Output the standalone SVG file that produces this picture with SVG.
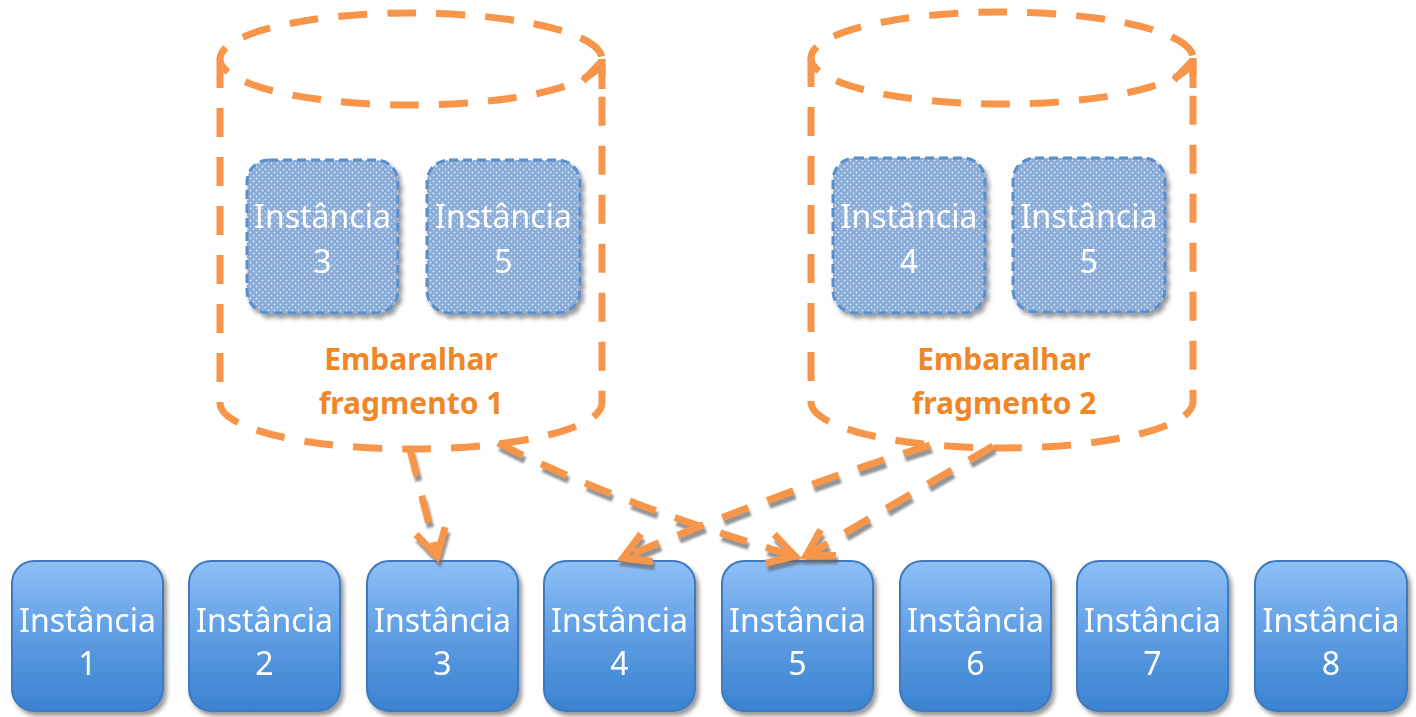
<svg xmlns="http://www.w3.org/2000/svg" width="1416" height="717" viewBox="0 0 1416 717">
<defs>
<style>
.cyl{fill:none;stroke:#F7964A;stroke-width:7;stroke-dasharray:29 20}
.cylsolid{fill:none;stroke:#F7964A;stroke-width:7}
.conn{fill:none;stroke:#F7964A;stroke-width:7;stroke-dasharray:28 20;marker-end:url(#arr)}
.lbl{font-family:"Noto Sans","Open Sans",sans-serif;font-weight:bold;font-size:30px;fill:#EF8628;text-anchor:middle}
.itxt{font-family:"Noto Sans","Open Sans",sans-serif;font-size:32px;fill:#ffffff;text-anchor:middle}
.box{fill:url(#bg);stroke:#3F79BD;stroke-width:2}
.ibox{fill:url(#dots);stroke:#5A8ECD;stroke-width:3;stroke-dasharray:9 5}
</style>
<linearGradient id="bg" x1="0" y1="0" x2="0" y2="1">
<stop offset="0" stop-color="#8EC0F6"/>
<stop offset="0.5" stop-color="#5E9DE3"/>
<stop offset="1" stop-color="#3A82D0"/>
</linearGradient>
<pattern id="dots" width="6" height="6" patternUnits="userSpaceOnUse">
<rect width="6" height="6" fill="#88ABD7"/>
<circle cx="1.5" cy="1.5" r="0.9" fill="#DDE8F5"/>
<circle cx="4.5" cy="4.5" r="0.9" fill="#DDE8F5"/>
</pattern>
<filter id="sh" x="-10%" y="-10%" width="125%" height="125%">
<feDropShadow dx="3" dy="4" stdDeviation="2" flood-color="#000" flood-opacity="0.4"/>
</filter>
<filter id="csh" x="-10%" y="-10%" width="130%" height="140%">
<feDropShadow dx="2" dy="5" stdDeviation="1.2" flood-color="#666" flood-opacity="0.7"/>
</filter>
<marker id="arr" markerUnits="userSpaceOnUse" markerWidth="60" markerHeight="60" viewBox="-40 -30 50 60" refX="0" refY="0" orient="auto">
<path d="M-26,-15 L0,0 L-26,15" fill="none" stroke="#F7964A" stroke-width="7"/>
</marker>
</defs>
<rect width="1416" height="717" fill="#ffffff"/>

<g id="shard1">
<ellipse class="cyl" cx="411" cy="59" rx="191" ry="46"/>
<path class="cyl" d="M220,59 V403 A191,46 0 0 0 602,403 V59"/>
<path class="cylsolid" d="M583,81 L601,62 M602,62 V89"/>
<text class="lbl" x="411" y="370">Embaralhar</text>
<text class="lbl" x="411" y="414">fragmento 1</text>
</g>

<g id="shard2">
<ellipse class="cyl" cx="1002" cy="58" rx="191" ry="46"/>
<path class="cyl" d="M811,58 V402 A191,46 0 0 0 1193,402 V58"/>
<path class="cylsolid" d="M1174,80 L1192,61 M1193,61 V88"/>
<text class="lbl" x="1004" y="370">Embaralhar</text>
<text class="lbl" x="1004" y="414">fragmento 2</text>
</g>

<g id="s1-inst3" filter="url(#sh)">
<rect class="ibox" x="247" y="160" width="151" height="153" rx="22"/>
<text class="itxt" x="322.5" y="228">Instância</text>
<text class="itxt" x="322.5" y="273">3</text>
</g>
<g id="s1-inst5" filter="url(#sh)">
<rect class="ibox" x="427" y="160" width="153" height="153" rx="22"/>
<text class="itxt" x="503.5" y="228">Instância</text>
<text class="itxt" x="503.5" y="273">5</text>
</g>
<g id="s2-inst4" filter="url(#sh)">
<rect class="ibox" x="833" y="158" width="152" height="155" rx="22"/>
<text class="itxt" x="909" y="228">Instância</text>
<text class="itxt" x="909" y="273">4</text>
</g>
<g id="s2-inst5" filter="url(#sh)">
<rect class="ibox" x="1013" y="158" width="152" height="154" rx="22"/>
<text class="itxt" x="1089" y="228">Instância</text>
<text class="itxt" x="1089" y="273">5</text>
</g>

<g id="inst1" filter="url(#sh)"><rect class="box" x="12" y="561" width="151" height="150" rx="22"/><text class="itxt" x="87.5" y="632">Instância</text><text class="itxt" x="87.5" y="675">1</text></g>
<g id="inst2" filter="url(#sh)"><rect class="box" x="189" y="561" width="151" height="150" rx="22"/><text class="itxt" x="264.5" y="632">Instância</text><text class="itxt" x="264.5" y="675">2</text></g>
<g id="inst3" filter="url(#sh)"><rect class="box" x="367" y="561" width="151" height="150" rx="22"/><text class="itxt" x="442.5" y="632">Instância</text><text class="itxt" x="442.5" y="675">3</text></g>
<g id="inst4" filter="url(#sh)"><rect class="box" x="544" y="561" width="151" height="150" rx="22"/><text class="itxt" x="619.5" y="632">Instância</text><text class="itxt" x="619.5" y="675">4</text></g>
<g id="inst5" filter="url(#sh)"><rect class="box" x="722" y="561" width="151" height="150" rx="22"/><text class="itxt" x="797.5" y="632">Instância</text><text class="itxt" x="797.5" y="675">5</text></g>
<g id="inst6" filter="url(#sh)"><rect class="box" x="900" y="561" width="151" height="150" rx="22"/><text class="itxt" x="975.5" y="632">Instância</text><text class="itxt" x="975.5" y="675">6</text></g>
<g id="inst7" filter="url(#sh)"><rect class="box" x="1077" y="561" width="151" height="150" rx="22"/><text class="itxt" x="1152.5" y="632">Instância</text><text class="itxt" x="1152.5" y="675">7</text></g>
<g id="inst8" filter="url(#sh)"><rect class="box" x="1255" y="561" width="152" height="150" rx="22"/><text class="itxt" x="1331" y="632">Instância</text><text class="itxt" x="1331" y="675">8</text></g>

<g id="connectors" filter="url(#csh)">
<path class="conn" d="M410,449 L437,556"/>
<path class="conn" d="M498,443 Q620,505 795,556"/>
<path class="conn" d="M930,445 Q770,495 623,558"/>
<path class="conn" d="M993,446 Q900,500 806,556"/>
</g>
</svg>
